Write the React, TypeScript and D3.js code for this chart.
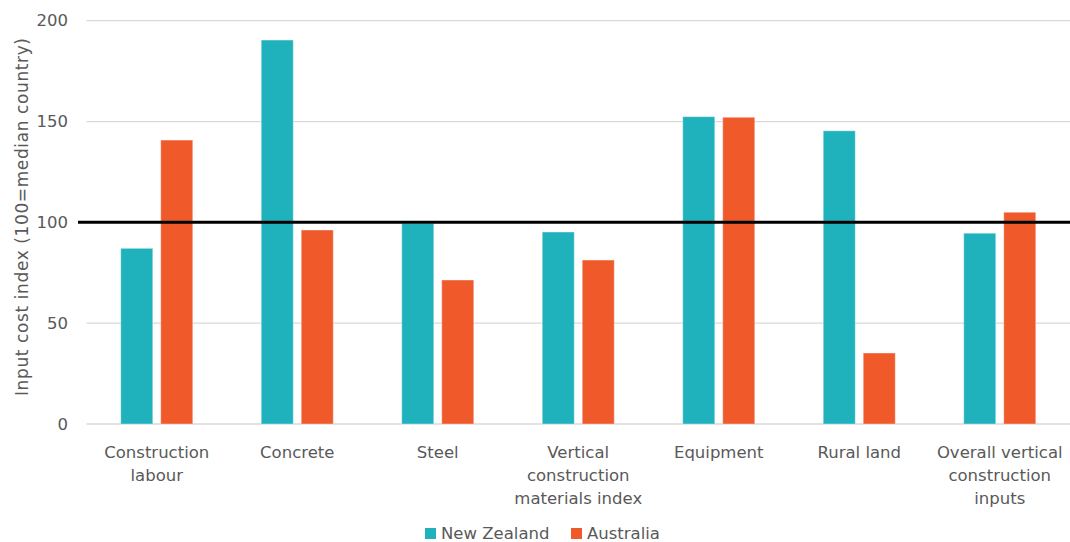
import React from "react";
import * as d3 from "d3";

const categories: string[][] = [
  ["Construction", "labour"],
  ["Concrete"],
  ["Steel"],
  ["Vertical", "construction", "materials index"],
  ["Equipment"],
  ["Rural land"],
  ["Overall vertical", "construction", "inputs"],
];
const newZealand = [87.1, 190.4, 99.5, 95.2, 152.4, 145.4, 94.6];
const australia = [140.8, 96.2, 71.4, 81.3, 152.1, 35.2, 105.0];
const seriesNames = ["New Zealand", "Australia"];
const seriesColors = ["#1FB2BD", "#F05A2B"];
const yTicks = [0, 50, 100, 150, 200];
const referenceLevel = 100;

const W = 1070;
const H = 542;
const margin = { left: 86.5, right: 0 };
const FONT = "'DejaVu Sans', Verdana, sans-serif";
const TEXT = "#595959";

export default function App() {
  const x = d3
    .scaleBand<number>()
    .domain(d3.range(categories.length))
    .range([margin.left, W - margin.right])
    .paddingInner(0)
    .paddingOuter(0);
  const y = d3.scaleLinear().domain([0, 200]).range([424, 20.7]);
  const barW = 32;
  const gap = 8;
  const series = [newZealand, australia];

  return (
    <svg
      width={W}
      height={H}
      style={{ position: "absolute", left: 0, top: 0, background: "#fff" }}
      fontFamily={FONT}
    >
      {yTicks.map((t) => (
        <g key={t}>
          <line
            x1={margin.left}
            x2={W}
            y1={y(t)}
            y2={y(t)}
            stroke="#D9D9D9"
            strokeWidth={1.3}
          />
          <text
            x={68}
            y={y(t)}
            dy="0.35em"
            textAnchor="end"
            fontSize={16.5}
            fill={TEXT}
          >
            {t}
          </text>
        </g>
      ))}
      {series.map((vals, si) =>
        vals.map((v, i) => {
          const cx = (x(i) as number) + x.bandwidth() / 2;
          const groupW = barW * 2 + gap;
          const bx = cx - groupW / 2 + si * (barW + gap);
          return (
            <rect
              key={`${si}-${i}`}
              x={bx}
              y={y(v)}
              width={barW}
              height={y(0) - y(v)}
              fill={seriesColors[si]}
              stroke="rgba(255,255,255,0.35)"
              strokeWidth={1}
            />
          );
        })
      )}
      <line
        x1={78}
        x2={W}
        y1={y(referenceLevel)}
        y2={y(referenceLevel)}
        stroke="#000"
        strokeWidth={3}
      />
      {categories.map((lines, i) => {
        const cx = (x(i) as number) + x.bandwidth() / 2;
        return (
          <text
            key={i}
            x={cx}
            y={457.5}
            textAnchor="middle"
            fontSize={16.5}
            fill={TEXT}
          >
            {lines.map((l, k) => (
              <tspan key={k} x={cx} dy={k === 0 ? 0 : 23}>
                {l}
              </tspan>
            ))}
          </text>
        );
      })}
      <text
        transform={`translate(28,217) rotate(-90)`}
        textAnchor="middle"
        fontSize={17}
        textLength={358}
        lengthAdjust="spacing"
        fill={TEXT}
      >
        Input cost index (100=median country)
      </text>
      <g>
        <rect x={425} y={528} width={11} height={11} fill={seriesColors[0]} />
        <text x={441} y={539} fontSize={16.5} fill={TEXT}>
          {seriesNames[0]}
        </text>
        <rect x={571} y={528} width={11} height={11} fill={seriesColors[1]} />
        <text x={587} y={539} fontSize={16.5} fill={TEXT}>
          {seriesNames[1]}
        </text>
      </g>
    </svg>
  );
}
